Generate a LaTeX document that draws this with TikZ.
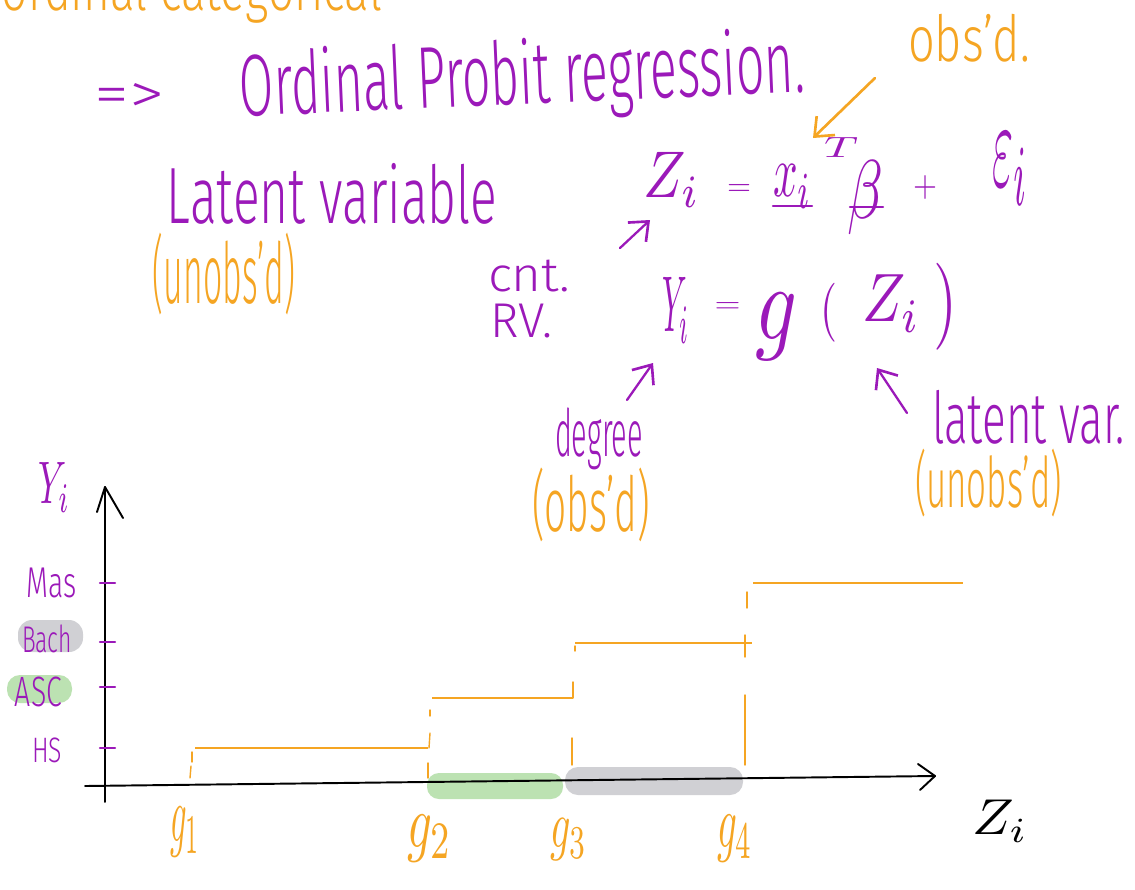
\documentclass[tikz,border=0pt]{standalone}
\usepackage{fontspec}
\IfFontExistsTF{Fira Sans Light}{\setmainfont{Fira Sans Light}}{\setmainfont{Liberation Sans}}
\usepackage{graphicx}
\usetikzlibrary{arrows.meta}
\definecolor{hwpurple}{RGB}{155,25,185}
\definecolor{hworange}{RGB}{245,165,35}
\definecolor{hlgreen}{RGB}{188,226,178}
\definecolor{hlgray}{RGB}{208,208,212}
\newlength\pxu
\setlength\pxu{0.02cm}
\newcommand\fitbox[3]{\resizebox*{#1\pxu}{#2\pxu}{#3}}
\begin{document}
\begin{tikzpicture}[x=0.02cm, y=-0.02cm,
  hw/.style={inner sep=0pt, outer sep=0pt},
  pt/.style={hw, text=hwpurple},
  ot/.style={hw, text=hworange},
  harrow/.style={line width=1.5pt, line cap=round, line join=round, -{Straight Barb[length=9pt, width=15pt, line width=1.5pt]}},
  axisline/.style={black, line width=1.1pt, line cap=round, line join=round},
  stepline/.style={hworange, line width=0.9pt},
  stepdash/.style={hworange, line width=0.8pt, line cap=round},
  tickline/.style={hwpurple, line width=1.2pt, line cap=round},
  uline/.style={hwpurple, line width=1.4pt, line cap=round}]
\useasboundingbox (0,0) rectangle (1135,889);
\clip (0,0) rectangle (1135,889);
\fill[white] (0,0) rectangle (1135,889);

% top text
\node[ot] (topcut) at (192,-7) {\fitbox{380}{60}{ordinal categorical}};
\node[pt] (imp) at (130,98) {\fitbox{70}{30}{=>}};
\node[pt, rotate=2.5] (title) at (522,80) {\fitbox{565}{84}{Ordinal Probit regression.}};
\node[ot] (obsd1) at (969,38) {\fitbox{122}{48}{obs'd.}};

\node[pt] (latent) at (332,193.5) {\fitbox{330}{61}{Latent variable}};
\node[ot] (unobs1) at (224,274) {\fitbox{142}{82}{(unobs'd)}};
\node[pt] (cnt) at (529,276) {\fitbox{82}{32}{cnt.}};
\node[pt] (rv) at (521,321) {\fitbox{62}{34}{RV.}};

% Z_i = x_i^T beta + eps_i
\node[pt] (z1) at (671.5,179.5) {\fitbox{57}{55}{$Z_i$}};
\node[pt] (eq1) at (739,190) {\fitbox{24}{11}{$=$}};
\node[pt] (xi) at (792.5,186.5) {\fitbox{39}{43}{$x_i$}};
\node[pt] (xT) at (841,147) {\fitbox{34}{20}{$T$}};
\node[pt] (beta) at (865,198) {\fitbox{36}{74}{$\beta$}};
\node[pt] (plus) at (925,187) {\fitbox{24}{24}{$+$}};
\node[pt] (eps) at (1010,169) {\fitbox{36}{72}{$\varepsilon_i$}};
\draw[uline] (773,206) -- (812,206);
\draw[uline] (850,207) -- (883,207);

% Y_i = g(Z_i)
\node[pt] (y2) at (676,310) {\fitbox{28}{66}{$Y_i$}};
\node[pt] (eq2) at (727.5,307.5) {\fitbox{26}{10}{$=$}};
\node[pt] (gfun) at (776,326.5) {\fitbox{42}{67}{$g$}};
\node[pt] (lp) at (828.5,312.5) {\fitbox{17}{59}{$($}};
\node[pt] (z2) at (891,303.5) {\fitbox{58}{57}{$Z_i$}};
\node[pt] (rp) at (945,306.5) {\fitbox{24}{87}{$)$}};

\node[pt] (degree) at (599,439) {\fitbox{88}{62}{degree}};
\node[ot] (obsd2) at (591,505) {\fitbox{118}{74}{(obs'd)}};
\node[pt] (latvar) at (1028.5,417) {\fitbox{193}{54}{latent var.}};
\node[ot] (unobs2) at (988.5,483) {\fitbox{147}{68}{(unobs'd)}};

% arrows
\coordinate (oaS) at (875,78);  \coordinate (oaE) at (813,138);
\coordinate (paS) at (620,248); \coordinate (paE) at (650,220);
\coordinate (pbS) at (627,400); \coordinate (pbE) at (653,363);
\coordinate (pcS) at (907,413); \coordinate (pcE) at (877,368);
\draw[harrow, hworange] (oaS) -- (oaE);
\draw[harrow, hwpurple, line width=1.3pt] (paS) -- (paE);
\draw[harrow, hwpurple, line width=1.3pt] (pbS) -- (pbE);
\draw[harrow, hwpurple, line width=1.3pt] (pcS) -- (pcE);

% highlights
\fill[hlgray, rounded corners=0.28cm] (18,620) rectangle (83,652);
\fill[hlgreen, rounded corners=0.26cm] (7,675) rectangle (72,703);
\fill[hlgreen, rounded corners=0.24cm] (427,773) rectangle (563,799);
\fill[hlgray, rounded corners=0.26cm] (565,767) rectangle (743,795);

% axis labels
\node[pt] (yl) at (54,487) {\fitbox{32}{50}{$Y_i$}};
\node[pt] (mas) at (52,583) {\fitbox{50}{30}{Mas}};
\node[pt] (bach) at (47,639) {\fitbox{50}{28}{Bach}};
\node[pt] (asc) at (38.5,692) {\fitbox{47}{30}{ASC}};
\node[pt] (hs) at (47,750.5) {\fitbox{30}{25}{HS}};
\node[hw] (zl) at (1000,821) {\fitbox{56}{42}{$Z_i$}};
\node[ot] (g1) at (185,832) {\fitbox{30}{50}{$g_1$}};
\node[ot] (g2) at (429.5,838.5) {\fitbox{45}{47}{$g_2$}};
\node[ot] (g3) at (568.5,840) {\fitbox{37}{42}{$g_3$}};
\node[ot] (g4) at (735,838.5) {\fitbox{36}{47}{$g_4$}};

% axes
\coordinate (yb) at (105,802); \coordinate (yt) at (105,487);
\coordinate (xl) at (85,786);  \coordinate (xr) at (935,776);
\draw[axisline] (yb) -- (yt);
\draw[axisline] (97,512) -- (yt) -- (123,518);
\draw[axisline] (xl) -- (xr);
\draw[axisline] (918,764) -- (xr) -- (920,790);

% ticks
\foreach \yy in {583,642,687,748} \draw[tickline] (100,\yy) -- (115,\yy);

% step function
\draw[stepline] (195,748) -- (428,748);
\draw[stepline] (432,698) -- (573,698);
\draw[stepline] (575,643) -- (752,643);
\draw[stepline] (753,583) -- (963,583);
\draw[stepdash] (192,752) -- (192,762);
\draw[stepdash] (191,766) -- (190,778);
\draw[stepdash] (430,710) -- (430,716);
\draw[stepdash] (430,733) -- (429,748);
\draw[stepdash] (428,763) -- (428,778);
\draw[stepdash] (575,646) -- (575,651);
\draw[stepdash] (573,682) -- (573,698);
\draw[stepdash] (572,738) -- (572,765);
\draw[stepdash] (747,592) -- (747,608);
\draw[stepdash] (745,635) -- (745,657);
\draw[stepdash] (745,695) -- (745,765);
\end{tikzpicture}
\end{document}
